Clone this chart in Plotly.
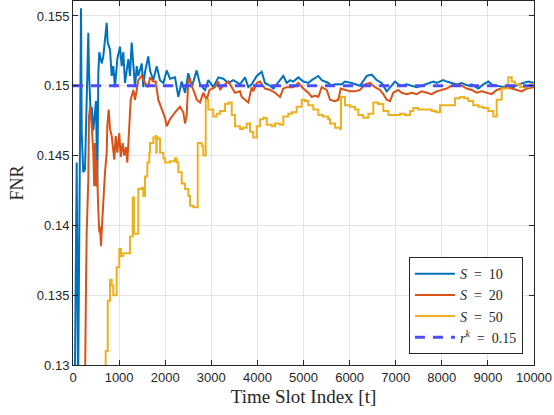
import plotly.graph_objects as go

# ---------------- data ----------------
s10_x = [30, 80, 110, 140, 174, 189, 223, 260, 282, 297, 332, 347, 384, 406, 440, 477, 499, 527, 549, 570,
         623, 657, 731, 753, 803, 839, 874, 911, 961, 1020, 1056, 1091, 1128, 1200, 1236, 1273, 1308, 1345,
         1382, 1416, 1490, 1525, 1562, 1633, 1670, 1742, 1816, 1887, 1960, 2033, 2104, 2213, 2284, 2358,
         2430, 2501, 2575, 2683, 2755, 2863, 2935, 3043, 3152, 3260, 3369, 3477, 3623, 3731, 3803, 3876,
         3985, 4093, 4165, 4273, 4346, 4456, 4562, 4636, 4707, 4779, 4887, 4996, 5104, 5178, 5321, 5395,
         5538, 5610, 5683, 5829, 5900, 6046, 6117, 6226, 6371, 6479, 6590, 6696, 6805, 6876, 6985, 7056,
         7130, 7238, 7382, 7455, 7564, 7707, 7816, 7889, 8033, 8106, 8249, 8323, 8432, 8575, 8649, 8792,
         8900, 9009, 9082, 9226, 9334, 9443, 9551, 9660, 9768, 9877, 10000]
s10_y = [0.1250, 0.1445, 0.1280, 0.1435, 0.15555, 0.1466, 0.1438, 0.1440, 0.1485, 0.1490, 0.1538, 0.1510,
         0.1479, 0.1485, 0.1468, 0.1486, 0.1489, 0.1428, 0.1509, 0.1524, 0.1516, 0.1521, 0.1545, 0.1531,
         0.1526, 0.1507, 0.1514, 0.1499, 0.1519, 0.1528, 0.1514, 0.1524, 0.1502, 0.1519, 0.1507, 0.1531,
         0.1514, 0.1499, 0.1514, 0.1507, 0.1516, 0.1499, 0.1510, 0.1521, 0.1511, 0.1504, 0.1514, 0.1504,
         0.1502, 0.1511, 0.1505, 0.1506, 0.1492, 0.1503, 0.1495, 0.1509, 0.1499, 0.1511, 0.1501, 0.1497,
         0.1504, 0.1499, 0.1506, 0.1505, 0.1502, 0.1504, 0.1501, 0.1506, 0.1499, 0.1501, 0.1507, 0.1510,
         0.1502, 0.1500, 0.1498, 0.1503, 0.1507, 0.1502, 0.1504, 0.1503, 0.1506, 0.1503, 0.1502, 0.1504,
         0.1507, 0.1504, 0.1502, 0.1500, 0.1501, 0.1501, 0.1503, 0.1502, 0.1501, 0.1500, 0.1507, 0.1508,
         0.1504, 0.1502, 0.1496, 0.1499, 0.1503, 0.1501, 0.1500, 0.1501, 0.1500, 0.1499, 0.1500, 0.1502,
         0.1503, 0.1502, 0.1504, 0.1503, 0.1502, 0.1501, 0.1502, 0.1500, 0.1501, 0.1498, 0.1501, 0.1503,
         0.1501, 0.1500, 0.1499, 0.1500, 0.1499, 0.1501, 0.1502, 0.1503, 0.1502]

s20_x = [250, 260, 282, 297, 332, 347, 369, 406, 440, 460, 477, 499, 514, 549, 570, 586, 607, 636, 657, 694,
         731, 744, 774, 803, 839, 874, 896, 926, 961, 1004, 1035, 1078, 1110, 1150, 1178, 1221, 1252, 1308,
         1345, 1382, 1416, 1490, 1562, 1633, 1670, 1742, 1794, 1850, 1924, 1996, 2033, 2104, 2213, 2321,
         2393, 2430, 2466, 2501, 2538, 2575, 2646, 2683, 2755, 2826, 2900, 2960, 3080, 3152, 3189, 3260,
         3369, 3514, 3623, 3660, 3731, 3803, 3876, 3911, 3985, 4056, 4165, 4273, 4382, 4490, 4562, 4636,
         4779, 4887, 4996, 5104, 5178, 5249, 5321, 5395, 5503, 5575, 5683, 5755, 5807, 5900, 6009, 6117,
         6226, 6334, 6443, 6551, 6659, 6731, 6805, 6876, 6948, 7056, 7130, 7238, 7347, 7455, 7564, 7672,
         7781, 7889, 7998, 8106, 8215, 8323, 8432, 8540, 8649, 8757, 8866, 8974, 9082, 9191, 9299, 9408,
         9516, 9625, 9733, 9842, 10000]
s20_y = [0.1250, 0.1316, 0.1357, 0.1395, 0.1433, 0.1478, 0.1485, 0.1471, 0.1452, 0.1428, 0.1459, 0.1428,
         0.1447, 0.1411, 0.1395, 0.1399, 0.1385, 0.1404, 0.1419, 0.1438, 0.1452, 0.1471, 0.1483, 0.1469,
         0.1464, 0.1454, 0.1447, 0.1464, 0.1452, 0.1466, 0.1449, 0.1459, 0.1450, 0.1456, 0.1445, 0.1471,
         0.1490, 0.1497, 0.1490, 0.1497, 0.1504, 0.1507, 0.1502, 0.1499, 0.1506, 0.1503, 0.1503, 0.1490,
         0.1483, 0.1477, 0.1471, 0.1476, 0.1481, 0.1485, 0.1481, 0.1473, 0.1479, 0.1504, 0.1505, 0.1500,
         0.1494, 0.1490, 0.1488, 0.1495, 0.1490, 0.1497, 0.1499, 0.1503, 0.1497, 0.1500, 0.1503, 0.1495,
         0.1496, 0.1492, 0.1490, 0.1488, 0.1499, 0.1496, 0.1502, 0.1503, 0.1498, 0.1497, 0.1495, 0.1492,
         0.1498, 0.1499, 0.1499, 0.1502, 0.1498, 0.1495, 0.1492, 0.1493, 0.1492, 0.1499, 0.1497, 0.1490,
         0.1489, 0.1490, 0.1498, 0.1497, 0.1496, 0.1496, 0.1497, 0.1501, 0.1502, 0.1499, 0.1497, 0.1494,
         0.1490, 0.1489, 0.1495, 0.1497, 0.1495, 0.1494, 0.1495, 0.1494, 0.1496, 0.1495, 0.1494, 0.1496,
         0.1497, 0.1498, 0.1500, 0.1501, 0.1500, 0.1498, 0.1497, 0.1495, 0.1496, 0.1495, 0.1494, 0.1497,
         0.1498, 0.1499, 0.1498, 0.1497, 0.1496, 0.1498, 0.1499]

s50_x = [690, 709, 753, 803, 839, 874, 948, 1004, 1041, 1091, 1236, 1295, 1323, 1416, 1490, 1525, 1562,
         1612, 1655, 1670, 1742, 1794, 1805, 1816, 1850, 1887, 1960, 1996, 2104, 2213, 2250, 2284, 2358,
         2430, 2501, 2538, 2610, 2705, 2792, 2826, 2879, 2935, 3043, 3117, 3189, 3297, 3369, 3443, 3514,
         3623, 3688, 3768, 3839, 3911, 3985, 4056, 4128, 4202, 4310, 4382, 4490, 4562, 4670, 4750, 4852,
         4961, 5033, 5104, 5213, 5321, 5423, 5538, 5575, 5683, 5792, 5813, 5900, 6009, 6117, 6189, 6297,
         6406, 6514, 6616, 6731, 6840, 6985, 7093, 7202, 7310, 7382, 7484, 7636, 7781, 7874, 7961, 8069,
         8178, 8286, 8395, 8482, 8575, 8683, 8792, 8894, 9009, 9117, 9165, 9191, 9262, 9299, 9408, 9443,
         9479, 9516, 9588, 9696, 9805, 9913, 10000]
s50_y = [0.1280, 0.1310, 0.1346, 0.1361, 0.1357, 0.1350, 0.1370, 0.1383, 0.1378, 0.1380, 0.1392, 0.1420,
         0.1394, 0.1426, 0.1427, 0.1421, 0.1435, 0.1445, 0.1452, 0.1459, 0.1463, 0.1464, 0.1452, 0.1463,
         0.1462, 0.1452, 0.1448, 0.1445, 0.1446, 0.1448, 0.1445, 0.1438, 0.1430, 0.1426, 0.1421, 0.1414,
         0.1413, 0.1459, 0.1457, 0.1450, 0.1490, 0.1483, 0.1478, 0.1480, 0.1482, 0.1487, 0.1488, 0.1479,
         0.1471, 0.1469, 0.1470, 0.1473, 0.1467, 0.1463, 0.1471, 0.1476, 0.1477, 0.1472, 0.1471, 0.1473,
         0.1472, 0.1478, 0.1480, 0.1481, 0.1485, 0.1490, 0.1489, 0.1486, 0.1483, 0.1479, 0.1478, 0.1476,
         0.1473, 0.1470, 0.1469, 0.1492, 0.1486, 0.1485, 0.1483, 0.1479, 0.1477, 0.1480, 0.1488, 0.1487,
         0.1482, 0.1479, 0.1479, 0.1480, 0.1479, 0.1482, 0.1484, 0.1483, 0.1483, 0.1482, 0.1481, 0.1486,
         0.1486, 0.1486, 0.1491, 0.1492, 0.1491, 0.1489, 0.1486, 0.1485, 0.1484, 0.1482, 0.1478, 0.1478,
         0.1490, 0.1490, 0.1498, 0.1498, 0.1506, 0.1506, 0.1503, 0.1501, 0.1499, 0.1499, 0.1501, 0.1501]

target_x = [0, 10000]
target_y = [0.15, 0.15]

x_ticks = [0, 1000, 2000, 3000, 4000, 5000, 6000, 7000, 8000, 9000, 10000]
y_ticks = [0.13, 0.135, 0.14, 0.145, 0.15, 0.155]
y_tick_text = ["0.13", "0.135", "0.14", "0.145", "0.15", "0.155"]

# ---------------- figure ----------------
fig = go.Figure()
fig.add_trace(go.Scatter(x=s10_x, y=s10_y, mode="lines", name="<i>S</i>\u2002=\u200210",
                         line=dict(color="#0072BD", width=2)))
fig.add_trace(go.Scatter(x=s20_x, y=s20_y, mode="lines", name="<i>S</i>\u2002=\u200220",
                         line=dict(color="#D95319", width=2)))
fig.add_trace(go.Scatter(x=s50_x, y=s50_y, mode="lines", name="<i>S</i>\u2002=\u200250",
                         line=dict(color="#EDB120", width=2, shape="hv")))
fig.add_trace(go.Scatter(x=target_x, y=target_y, mode="lines",
                         name="<i>r<sup>k</sup></i>\u2002=\u20020.15",
                         line=dict(color="#4D4DFF", width=3, dash="10px,8px")))

axis_common = dict(showline=True, linecolor="#262626", linewidth=1, mirror="ticks",
                   ticks="inside", ticklen=5, tickcolor="#262626", showgrid=True,
                   gridcolor="#E3E3E3", gridwidth=1, zeroline=False,
                   tickfont=dict(family="Liberation Sans, Arial", size=13, color="#262626"))

fig.update_xaxes(range=[0, 10000], tickvals=x_ticks, tickformat="d",
                 title=dict(text="Time Slot Index [t]", standoff=6,
                            font=dict(family="Liberation Serif, Times New Roman", size=19, color="#262626")),
                 **axis_common)
fig.update_yaxes(range=[0.13, 0.15607], tickvals=y_ticks, ticktext=y_tick_text,
                 title=dict(text="FNR", standoff=8,
                            font=dict(family="Liberation Serif, Times New Roman", size=18, color="#262626")),
                 **axis_common)

fig.update_layout(
    width=554, height=415,
    margin=dict(l=73, r=20, t=1, b=50),
    plot_bgcolor="white", paper_bgcolor="white",
    legend=dict(x=0.976, y=0.03, xanchor="right", yanchor="bottom",
                bgcolor="white", bordercolor="#262626", borderwidth=1,
                font=dict(family="Liberation Serif, Times New Roman", size=14, color="#262626"),
                tracegroupgap=0, itemwidth=40),
    showlegend=True,
)

fig.write_html("out.html")
